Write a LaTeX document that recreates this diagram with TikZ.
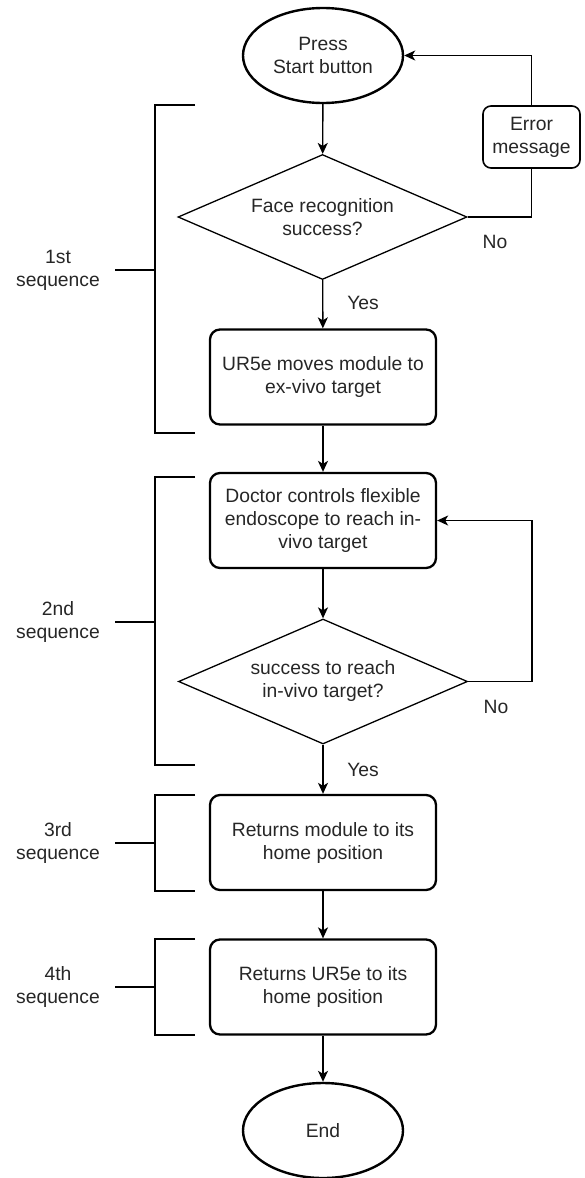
\documentclass[tikz,border=0pt]{standalone}
\usepackage{fontspec}
\setmainfont{Liberation Sans}
\usetikzlibrary{shapes.geometric,arrows.meta}

\tikzset{
  base/.style={font=\fontsize{19.3}{23}\selectfont, text=black!85, align=center, inner sep=0pt},
  terminal/.style={base, draw, ellipse, line width=2.4pt, minimum width=160pt, minimum height=95pt},
  process/.style={base, draw, rectangle, rounded corners=10pt, line width=2.3pt, minimum width=226pt, minimum height=95pt},
  decision/.style={base, draw, diamond, aspect=2.3, line width=1.3pt, minimum width=289pt, minimum height=125pt},
  note/.style={base, draw, rectangle, rounded corners=8pt, line width=1.6pt, minimum width=97pt, minimum height=62pt},
  lbl/.style={base},
  flow/.style={line width=1.4pt, -{Stealth[length=11pt,width=10pt,inset=3pt]}},
  link/.style={line width=1.4pt},
  bracket/.style={line width=2.6pt},
}

\begin{document}
\begin{tikzpicture}[x=1pt,y=-1pt]
  \useasboundingbox (0,0) rectangle (584,1178);

  % main flow
  \node[terminal] (start) at (323,55.5) {Press\\Start button};
  \node[decision] (d1) at (322.5,217) {Face recognition\\success?};
  \node[note] (err) at (531.5,137) {Error\\message};
  \node[process] (b1) at (323,377) {UR5e moves module to\\ex-vivo target};
  \node[process] (b2) at (323,520.5) {Doctor controls flexible\\endoscope to reach in-\\vivo target};
  \node[decision] (d2) at (323,681.5) {success to reach\\in-vivo target?};
  \node[process] (b3) at (323,842.5) {Returns module to its\\home position};
  \node[process] (b4) at (323,987) {Returns UR5e to its\\home position};
  \node[terminal] (end) at (323,1130.5) {End};

  % branch labels
  \node[lbl] (no1) at (495,242) {No};
  \node[lbl] (yes1) at (363,303) {Yes};
  \node[lbl] (no2) at (496,707) {No};
  \node[lbl] (yes2) at (363,770) {Yes};

  % connectors
  \draw[flow] (start) -- (d1);
  \draw[link] (d1.east) -| (err.south);
  \draw[flow] (err.north) |- (start.east);
  \draw[flow] (d1) -- (b1);
  \draw[flow] (b1) -- (b2);
  \draw[flow] (b2) -- (d2);
  \coordinate (loop) at (532,681.5);
  \draw[flow] (d2.east) -- (loop) |- (b2.east);
  \draw[flow] (d2) -- (b3);
  \draw[flow] (b3) -- (b4);
  \draw[flow] (b4) -- (end);

  % sequence brackets
  \node[lbl] (s1) at (58,270) {1st\\sequence};
  \node[lbl] (s2) at (58,622) {2nd\\sequence};
  \node[lbl] (s3) at (58,843) {3rd\\sequence};
  \node[lbl] (s4) at (58,987) {4th\\sequence};

  \draw[bracket] (195,105) -- (155,105) -- (155,433) -- (195,433);
  \draw[bracket] (115,270) -- (155,270);
  \draw[bracket] (195,477) -- (155,477) -- (155,765) -- (195,765);
  \draw[bracket] (115,622) -- (155,622);
  \draw[bracket] (195,795) -- (155,795) -- (155,891) -- (195,891);
  \draw[bracket] (115,843) -- (155,843);
  \draw[bracket] (195,939) -- (155,939) -- (155,1035) -- (195,1035);
  \draw[bracket] (115,987) -- (155,987);
\end{tikzpicture}
\end{document}
